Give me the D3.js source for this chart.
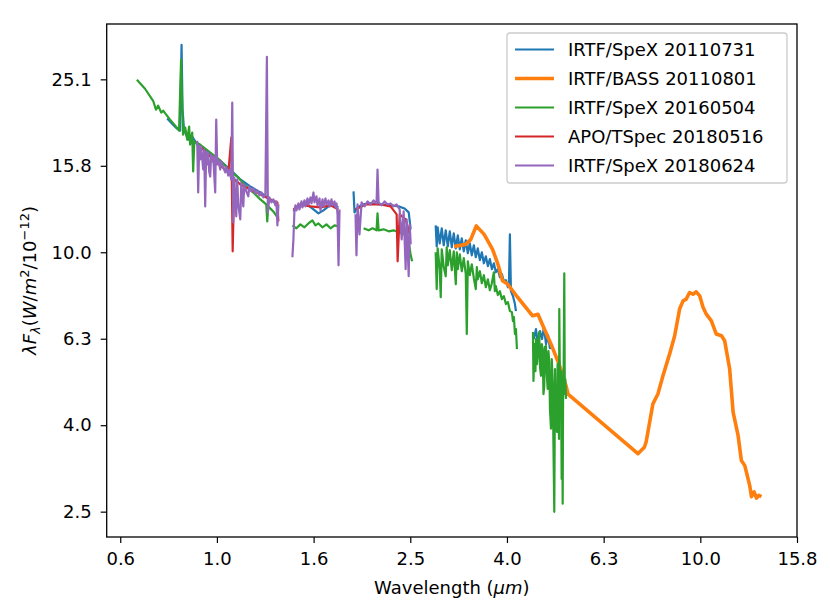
<!DOCTYPE html>
<html>
<head>
<meta charset="utf-8">
<script src="https://cdn.jsdelivr.net/npm/d3@7"></script>
<style>
body { margin: 0; background: #fff; }
text { font-family: "DejaVu Sans", sans-serif; fill: #000; }
</style>
</head>
<body>
<div id="chart"></div>
<script>
// wavelength in micron, lambda*F_lambda in units of 1e-12 W/m^2
// null marks the gap between two bands
var spex2011Wave = [0.789, 0.808, 0.827, 0.839, 0.845, 0.849, 0.855, 0.872, 0.889, 0.910, 0.946, 0.992, 1.026, 1.066, 1.118, 1.172, 1.230, 1.290, 1.334, null,
    1.439, 1.467, 1.503, 1.546, 1.584, 1.622, 1.661, 1.701, 1.742, 1.784, null,
    1.917, 1.926, 1.954, 2.001, 2.079, 2.181, 2.287, 2.376, 2.445, 2.493, 2.517, null,
    2.835, 2.849, 2.862, 2.890, 2.918, 2.946, 2.974, 3.003, 3.032, 3.061, 3.090, 3.120, 3.150, 3.180, 3.210, 3.241, 3.272, 3.304, 3.335, 3.367, 3.400, 3.432,
    3.465, 3.499, 3.532, 3.566, 3.600, 3.635, 3.670, 3.705, 3.740, 3.776, 3.812, 3.849, 3.886, 3.923, 3.961, 3.999, 4.018, 4.037, 4.057, 4.096, 4.135, 4.155, null,
    4.527, 4.571, 4.615, 4.659, 4.704, 4.749, 4.795, 4.841, 4.887];
var spex2011Flux = [20.38, 19.84, 19.32, 19.11, 30.19, 21.38, 19.21, 18.22, 18.51, 17.75, 17.28, 16.57, 16.13, 15.54, 14.74, 14.20, 13.75, 13.25, 12.90, null,
    12.43, 12.77, 12.90, 12.84, 12.56, 12.30, 12.50, 12.77, 12.84, 12.70, null,
    13.83, 12.37, 12.70, 12.90, 12.97, 12.90, 12.84, 12.77, 12.63, 12.37, 11.30, null,
    11.54, 10.32, 11.42, 10.49, 11.36, 10.38, 11.24, 10.32, 11.18, 10.27, 11.06, 10.21, 10.94, 10.16, 10.77, 10.05, 10.66, 9.95, 10.49, 9.84, 10.38, 9.74,
    10.21, 9.59, 10.00, 9.43, 9.79, 9.29, 9.64, 9.14, 9.43, 8.99, 9.14, 8.76, 8.90, 8.57, 8.62, 8.30, 8.39, 11.00, 8.13, 7.92, 7.59, 7.31, null,
    6.30, 6.64, 6.13, 6.57, 6.30, 6.71, 6.13, 6.43, 5.97];

var bassWave = [3.094, 3.272, 3.351, 3.440, 3.571, 3.717, 3.814, 3.898, 3.993, 4.188, 4.499, 4.615, 4.727, 4.911, 5.101, 5.275, 5.325,
    7.428, 7.660, 7.727, 7.978, 8.17, 8.37, 8.64, 8.85, 9.06, 9.21, 9.35, 9.50, 9.66, 9.81, 9.97, 10.13, 10.29, 10.54, 10.79,
    11.06, 11.23, 11.50, 11.69, 11.97, 12.16, 12.36, 12.65, 12.76, 12.92, 13.07, 13.21, 13.38];
var bassFlux = [10.31, 10.43, 10.71, 11.51, 11.00, 10.16, 9.38, 8.59, 8.44, 7.87, 7.13, 7.19, 6.75, 6.13, 5.51, 4.91, 4.70,
    3.42, 3.54, 3.645, 4.46, 4.70, 5.18, 5.82, 6.41, 7.39, 7.72, 7.79, 8.07, 8.00, 8.10, 7.93, 7.46, 7.19, 6.94, 6.47,
    6.41, 6.24, 5.37, 4.27, 3.77, 3.30, 3.21, 2.89, 2.72, 2.79, 2.70, 2.74, 2.72];

var spex2016Wave = [0.683, 0.710, 0.738, 0.748, 0.756, 0.767, 0.774, 0.800, 0.823, 0.835, 0.839, 0.843, 0.847, 0.851, 0.860, 0.868, 0.876, 0.880, 0.889, 0.893, 0.898, 0.923, 0.969, 1.016, 1.066, 1.102, 1.145, 1.189, 1.230, 1.265, 1.271, 1.277, 1.308, 1.334, null,
    1.433, 1.460, 1.488, 1.517, 1.546, 1.576, 1.599, 1.622, 1.653, 1.685, 1.718, 1.751, 1.784, null,
    2.011, 2.059, 2.099, 2.139, 2.149, 2.160, 2.212, 2.266, 2.320, 2.376, 2.422, 2.457, 2.493, 2.517, 2.535, null,
    2.835, 2.849, 2.862, 2.890, 2.904, 2.918, 2.946, 2.974, 2.988, 3.003, 3.032, 3.061, 3.090, 3.120, 3.135, 3.150, 3.180, 3.210, 3.241, 3.272, 3.288, 3.304, 3.335, 3.367, 3.400,
    3.432, 3.449, 3.465, 3.499, 3.532, 3.566, 3.600, 3.635, 3.670, 3.705, 3.740, 3.758, 3.776, 3.812, 3.849, 3.886, 3.923, 3.961, 3.999, 4.037, 4.076, 4.096, 4.115, 4.135, 4.155, 4.175, null,
    4.506, 4.517, 4.538, 4.560, 4.571, 4.593, 4.608, 4.626, 4.643, 4.659, 4.681, 4.699, 4.719, 4.737, 4.755, 4.771, 4.794, 4.812, 4.833, 4.851, 4.870, 4.886, 4.910, 4.928,
    4.950, 4.969, 4.988, 5.005, 5.012, 5.029, 5.053, 5.067, 5.084, 5.101, 5.108, 5.125, 5.132, 5.149, 5.166, 5.178, 5.191, 5.203, 5.216, 5.231, 5.244, 5.256, 5.274];
var spex2016Flux = [25.07, 23.89, 22.41, 21.38, 21.84, 21.04, 21.26, 20.27, 19.53, 19.11, 23.14, 27.88, 22.53, 18.71, 19.42, 18.22, 19.53, 17.75, 18.91, 15.38, 18.03, 17.75, 17.01, 16.31, 15.38, 14.97, 14.27, 13.75, 13.25, 12.90, 11.79, 12.77, 12.43, 12.04, null,
    11.54, 11.36, 11.60, 11.42, 11.66, 11.85, 11.54, 11.66, 11.42, 11.60, 11.36, 11.54, 11.48, null,
    11.36, 11.24, 11.36, 11.24, 12.30, 11.24, 11.30, 11.18, 11.24, 11.12, 11.06, 10.94, 10.60, 9.84, 9.53, null,
    10.00, 8.22, 10.21, 9.14, 7.87, 10.16, 9.24, 8.80, 10.27, 9.33, 10.11, 9.09, 10.05, 8.44, 10.00, 9.14, 9.89, 9.04, 9.69, 8.90, 6.47, 9.53, 8.85, 9.38, 8.71,
    8.22, 9.24, 8.66, 9.04, 8.48, 8.85, 8.30, 8.66, 8.17, 8.48, 8.99, 8.13, 8.35, 7.96, 8.13, 7.79, 7.92, 7.59, 7.67, 7.31, 7.27, 6.93, 7.08, 6.47, 6.64, 5.97, null,
    6.54, 5.04, 6.13, 5.31, 6.30, 5.51, 5.75, 6.36, 6.54, 5.43, 5.18, 6.13, 5.97, 4.70, 4.91, 6.04, 6.07, 5.23, 4.83, 5.91, 5.57, 4.34, 3.91, 5.66,
    5.01, 3.51, 2.51, 5.37, 4.75, 4.12, 3.84, 5.51, 4.58, 3.70, 7.39, 4.83, 4.18, 5.31, 2.99, 4.70, 2.62, 5.09, 5.46, 8.94, 4.70, 5.09, 4.58];

var tspecWave = [0.923, 0.969, 1.016, 1.056, 1.071, 1.078, 1.086, 1.118, 1.172, 1.230, 1.290, 1.334, 1.340, null,
    1.439, 1.488, 1.561, 1.637, 1.718, 1.784, null,
    1.935, 2.030, 2.181, 2.287, 2.354, 2.365, 2.388, 2.457, 2.505];
var tspecFlux = [17.56, 16.65, 15.88, 15.30, 18.42, 10.05, 14.74, 14.35, 13.97, 13.61, 13.25, 13.04, 11.79, null,
    12.56, 12.90, 12.77, 12.70, 12.84, 12.56, null,
    12.56, 12.90, 12.90, 12.77, 12.24, 9.53, 12.24, 11.92, 11.00];

var spex2018Wave = [0.9103, 0.9147, 0.9190, 0.9234, 0.9278, 0.9368, 0.9412, 0.9457, 0.9502, 0.9548, 0.9593, 0.9639, 0.9685, 0.9731, 0.9778, 0.9825, 0.9919, 0.9967, 1.0014, 1.0062,
    1.0159, 1.0208, 1.0306, 1.0405, 1.0454, 1.0555, 1.0605, 1.0707, 1.0758, 1.0810, 1.0862, 1.0914, 1.0966, 1.1018, 1.1071, 1.1178, 1.1231, 1.1339, 1.1393, 1.1503,
    1.1613, 1.1669, 1.1781, 1.1894, 1.2008, 1.2124, 1.2240, 1.2358, 1.2476, 1.2596, 1.2687, 1.2748, 1.2840, 1.2963, 1.3088, 1.3213, 1.3276, 1.3340, 1.3404, null,
    1.4327, 1.4396, 1.4465, 1.4534, 1.4604, 1.4744, 1.4815, 1.4957, 1.5029, 1.5173, 1.5246, 1.5392, 1.5466, 1.5614, 1.5689, 1.5840, 1.5915, 1.6068, 1.6145, 1.6300,
    1.6378, 1.6535, 1.6614, 1.6773, 1.6854, 1.7015, 1.7097, 1.7260, 1.7343, 1.7509, 1.7593, 1.7677, 1.7762, 1.7847, 1.7932, null,
    1.935, 1.944, 1.954, 1.972, 1.992, 2.021, 2.050, 2.079, 2.109, 2.139, 2.149, 2.160, 2.191, 2.223, 2.255, 2.287, 2.320, 2.354, 2.388, 2.411, 2.434, 2.457, 2.469, 2.493, 2.505, 2.517];
var spex2018Flux = [18.12, 13.75, 17.65, 16.39, 17.56, 15.54, 17.28, 12.77, 17.10, 15.96, 17.01, 15.38, 14.97, 16.83, 16.22, 16.65, 13.75, 20.27, 15.96, 16.39,
    15.54, 16.22, 15.71, 15.30, 15.79, 15.05, 15.54, 14.74, 22.18, 11.73, 14.89, 13.25, 12.11, 14.74, 12.90, 11.92, 14.50, 12.77, 14.35, 13.83,
    13.47, 14.20, 13.83, 14.05, 13.68, 13.90, 13.54, 13.75, 13.39, 13.61, 28.33, 12.37, 13.39, 13.04, 13.25, 12.84, 13.11, 11.54, 12.90, null,
    9.74, 10.71, 12.43, 12.84, 12.50, 12.97, 12.56, 13.11, 12.70, 13.18, 12.77, 13.32, 12.90, 13.39, 12.97, 13.75, 13.04, 13.47, 12.84, 13.32,
    12.50, 13.25, 12.77, 13.32, 12.90, 13.18, 12.77, 13.25, 12.84, 13.11, 12.70, 12.97, 12.24, 9.33, 12.56, null,
    12.24, 9.84, 12.90, 11.00, 13.04, 12.77, 13.11, 12.90, 13.18, 12.97, 15.54, 13.04, 12.84, 13.11, 12.90, 12.97, 12.77, 12.90, 12.56, 10.71, 12.43, 9.14, 11.92, 8.80, 11.60, 10.43];

var xTicks = [0.631, 1.0, 1.585, 2.512, 3.981, 6.310, 10.0, 15.849];
var yTicks = [2.512, 3.981, 6.310, 10.0, 15.849, 25.119];

var width = 830;
var height = 613;
var margin = { top: 24, right: 33, bottom: 76, left: 106.7 };

var svg = d3.select('#chart')
    .append("svg")
    .attr("width", width)
    .attr("height", height);

var xScale = d3.scaleLog()
    .domain([Math.pow(10, -0.228), Math.pow(10, 1.2)])
    .range([margin.left, width - margin.right]);
var yScale = d3.scaleLog()
    .domain([Math.pow(10, 0.3414), Math.pow(10, 1.528)])
    .range([height - margin.bottom, margin.top]);

function toPoints(wave, flux) {
    return wave.map(function (w, i) { return { w: w, f: flux[i] }; });
}

var series = [
    { name: "IRTF/SpeX 20110731", color: "#1f77b4", lw: 2.2, points: toPoints(spex2011Wave, spex2011Flux) },
    { name: "IRTF/BASS 20110801", color: "#ff7f0e", lw: 3.6, points: toPoints(bassWave, bassFlux) },
    { name: "IRTF/SpeX 20160504", color: "#2ca02c", lw: 2.2, points: toPoints(spex2016Wave, spex2016Flux) },
    { name: "APO/TSpec 20180516", color: "#d62728", lw: 2.2, points: toPoints(tspecWave, tspecFlux) },
    { name: "IRTF/SpeX 20180624", color: "#9467bd", lw: 2.2, points: toPoints(spex2018Wave, spex2018Flux) }
];

var line = d3.line()
    .defined(function (d) { return d.w !== null && d.f !== null; })
    .x(function (d) { return xScale(d.w); })
    .y(function (d) { return yScale(d.f); });

svg.append("defs").append("clipPath")
    .attr("id", "plotClip")
    .append("rect")
    .attr("x", margin.left)
    .attr("y", margin.top)
    .attr("width", width - margin.left - margin.right)
    .attr("height", height - margin.top - margin.bottom);

svg.append("g")
    .attr("clip-path", "url(#plotClip)")
    .selectAll(".spec")
    .data(series)
    .enter()
    .append("path")
    .classed("spec", true)
    .attr("d", function (d) { return line(d.points); })
    .style("fill", "none")
    .style("stroke", function (d) { return d.color; })
    .style("stroke-width", function (d) { return d.lw; })
    .style("stroke-linejoin", "round");

// axes
var xAxis = svg.append("g")
    .attr("transform", "translate(0," + (height - margin.bottom) + ")")
    .call(d3.axisBottom(xScale).tickValues(xTicks).tickFormat(d3.format(".1f")).tickSize(6).tickPadding(9).tickSizeOuter(0));
var yAxis = svg.append("g")
    .attr("transform", "translate(" + margin.left + ",0)")
    .call(d3.axisLeft(yScale).tickValues(yTicks).tickFormat(d3.format(".1f")).tickSize(6).tickPadding(9).tickSizeOuter(0));
[xAxis, yAxis].forEach(function (a) {
    a.select(".domain").remove();
    a.selectAll(".tick line").style("stroke", "#000").style("stroke-width", 1.2);
    a.selectAll(".tick text")
        .style("font-family", "DejaVu Sans")
        .style("font-size", "18px")
        .style("fill", "#000");
});

svg.append("rect")
    .attr("x", margin.left)
    .attr("y", margin.top)
    .attr("width", width - margin.left - margin.right)
    .attr("height", height - margin.top - margin.bottom)
    .style("fill", "none")
    .style("stroke", "#000")
    .style("stroke-width", 1.3);

// axis labels
var xLabel = svg.append("text")
    .attr("x", (margin.left + width - margin.right) / 2)
    .attr("y", 594)
    .attr("text-anchor", "middle")
    .style("font-size", "18px");
xLabel.append("tspan").text("Wavelength (");
xLabel.append("tspan").style("font-style", "italic").text("μm");
xLabel.append("tspan").text(")");

var yLabel = svg.append("text")
    .attr("transform", "translate(36," + ((margin.top + height - margin.bottom) / 2) + ") rotate(-90)")
    .attr("text-anchor", "middle")
    .style("font-size", "18px");
yLabel.append("tspan").style("font-style", "italic").text("λF");
yLabel.append("tspan").style("font-style", "italic").style("font-size", "13px").attr("dy", 4).text("λ");
yLabel.append("tspan").attr("dy", -4).text("(");
yLabel.append("tspan").style("font-style", "italic").text("W");
yLabel.append("tspan").text("/");
yLabel.append("tspan").style("font-style", "italic").text("m");
yLabel.append("tspan").style("font-size", "13px").attr("dy", -7).text("2");
yLabel.append("tspan").attr("dy", 7).text("/10");
yLabel.append("tspan").style("font-size", "13px").attr("dy", -7).text("−12");
yLabel.append("tspan").attr("dy", 7).text(")");

// legend
var legendGroup = svg.append("g").classed("legend", true);
legendGroup.append("rect")
    .attr("x", 507)
    .attr("y", 33)
    .attr("width", 280)
    .attr("height", 150)
    .attr("rx", 3)
    .style("fill", "#fff")
    .style("fill-opacity", 0.8)
    .style("stroke", "#cccccc")
    .style("stroke-width", 1.3);
var legendItems = legendGroup.selectAll(".leg")
    .data(series)
    .enter()
    .append("g")
    .classed("leg", true)
    .attr("transform", function (d, i) { return "translate(0," + (49.5 + i * 29) + ")"; });
legendItems.append("line")
    .attr("x1", 515)
    .attr("x2", 554)
    .style("stroke", function (d) { return d.color; })
    .style("stroke-width", function (d) { return d.lw; });
legendItems.append("text")
    .attr("x", 568)
    .attr("dy", "0.36em")
    .style("font-size", "18px")
    .text(function (d) { return d.name; });
</script>
</body>
</html>
